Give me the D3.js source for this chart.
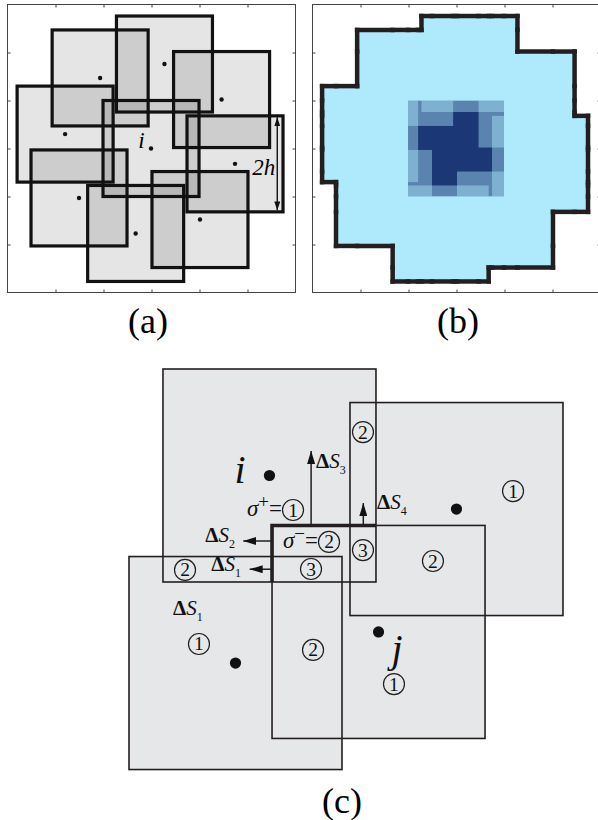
<!DOCTYPE html>
<html>
<head>
<meta charset="utf-8">
<script src="https://cdn.jsdelivr.net/npm/d3@7"></script>
<style>
  body { margin: 0; background: #fff; }
  svg { display: block; }
</style>
</head>
<body>
<svg id="fig" width="598" height="820" font-family="'Liberation Serif', 'Times New Roman', Times, 'DejaVu Serif', serif"></svg>
<script>
// ---- panels (a) and (b): window centres in grid units, half width h = 1
var winX = [1.93, 3.27, 4.46, 4.74, 4.01, 2.67, 1.49, 1.20, 2.99];
var winY = [1.53, 1.24, 1.98, 3.32, 4.48, 4.77, 4.03, 2.70, 3.00];
var h = 1;
var centre = 8;            // window "i"
var tickVals = [1, 2, 3, 4, 5];
var panelLabels = ["(a)", "(b)", "(c)"];

// ---- panel (c): four windows, centres in units of h
var cellName = ["i", "k", "l", "j"];
var cellX = [1.319, 3.075, 1.0, 2.343];
var cellY = [1.0, 1.315, 2.761, 2.469];

// arrows dS1..dS4 leaving the boundary of j inside i
var dsSub = ["1", "2", "3", "4"];
var dsDir = ["left", "left", "up", "up"];
var dsAt  = [1.88, 1.615, 1.71, 2.20];
var dsLen = [0.21, 0.27, 0.70, 0.21];

// circled region numbers
var circNum = [2, 1, 2, 3, 2, 3, 1, 2, 2, 1, 1];
var circX = [2.197, 1.54, 1.878, 2.197, 0.526, 1.709, 0.657, 1.728, 2.854, 2.488, 3.606];
var circY = [0.592, 1.324, 1.624, 1.70, 1.887, 1.878, 2.582, 2.638, 1.803, 2.958, 1.146];

// Delta S labels: subscript, x, baseline y, anchor
var dsLabSub = ["1", "2", "3", "4", "1"];
var dsLabX = [1.052, 0.995, 1.756, 2.329, 0.413];
var dsLabY = [1.897, 1.622, 0.930, 1.315, 2.310];
var dsLabAnchor = ["end", "end", "start", "start", "start"];

var svg = d3.select("#fig");
var defs = svg.append("defs");

function marker(id, len, wid) {
  defs.append("marker").attr("id", id)
    .attr("viewBox", "0 0 10 10").attr("refX", 10).attr("refY", 5)
    .attr("markerWidth", len).attr("markerHeight", wid)
    .attr("markerUnits", "userSpaceOnUse")
    .attr("preserveAspectRatio", "none")
    .attr("orient", "auto-start-reverse")
    .append("path").attr("d", "M0,0L10,5L0,10z").attr("fill", "#111");
}
marker("headA", 9, 6);
marker("headC", 13, 8);

function frame(x, y) {
  var g = svg.append("g");
  var x0 = x.range()[0], x1 = x.range()[1], y0 = y.range()[0], y1 = y.range()[1];
  g.append("g").attr("transform", "translate(0," + y1 + ")")
    .call(d3.axisBottom(x).tickValues(tickVals).tickSize(-3).tickFormat(""));
  g.append("g").attr("transform", "translate(0," + y0 + ")")
    .call(d3.axisTop(x).tickValues(tickVals).tickSize(-3).tickFormat(""));
  g.append("g").attr("transform", "translate(" + x0 + ",0)")
    .call(d3.axisLeft(y).tickValues(tickVals).tickSize(-3).tickFormat(""));
  g.append("g").attr("transform", "translate(" + x1 + ",0)")
    .call(d3.axisRight(y).tickValues(tickVals).tickSize(-3).tickFormat(""));
  g.selectAll(".domain").remove();
  g.selectAll(".tick line").attr("stroke", "#444");
  g.append("rect").attr("x", x0).attr("y", y0)
    .attr("width", x1 - x0).attr("height", y1 - y0)
    .attr("fill", "none").attr("stroke", "#444").attr("stroke-width", 1);
}

var wins = winX.map(function (d, i) { return { x: d, y: winY[i] }; });

// ================= (a)
var ax = d3.scaleLinear().domain([0, 6]).range([7.5, 295.5]);
var ay = d3.scaleLinear().domain([0, 6]).range([4.5, 292.5]);
var side = ax(2 * h) - ax(0);
var ga = svg.append("g");

ga.selectAll("rect.f").data(wins).join("rect").attr("class", "f")
  .attr("x", function (d) { return ax(d.x - h); })
  .attr("y", function (d) { return ay(d.y - h); })
  .attr("width", side).attr("height", side)
  .attr("fill", "#000").attr("fill-opacity", 0.1);
ga.selectAll("rect.s").data(wins).join("rect").attr("class", "s")
  .attr("x", function (d) { return ax(d.x - h); })
  .attr("y", function (d) { return ay(d.y - h); })
  .attr("width", side).attr("height", side)
  .attr("fill", "none").attr("stroke", "#111").attr("stroke-width", 3.2);
ga.selectAll("circle").data(wins).join("circle")
  .attr("cx", function (d) { return ax(d.x); })
  .attr("cy", function (d) { return ay(d.y); })
  .attr("r", 2.2).attr("fill", "#111");

// 2h arrow on window 4
var w4 = wins[3];
ga.append("line")
  .attr("x1", ax(w4.x + h - 0.12)).attr("x2", ax(w4.x + h - 0.12))
  .attr("y1", ay(w4.y - h + 0.03)).attr("y2", ay(w4.y + h - 0.03))
  .attr("stroke", "#111").attr("stroke-width", 1.4)
  .attr("marker-start", "url(#headA)").attr("marker-end", "url(#headA)");
ga.append("text").attr("x", ax(5.58)).attr("y", ay(3.56))
  .attr("text-anchor", "end").attr("font-size", 23).attr("font-style", "italic").text("2h");
ga.append("text").attr("x", ax(2.79)).attr("y", ay(2.98))
  .attr("text-anchor", "middle").attr("font-size", 23).attr("font-style", "italic").text("i");
frame(ax, ay);

// ================= (b)
var bx = d3.scaleLinear().domain([0, 6]).range([312.5, 600.5]);
var by = ay;
var gb = svg.append("g");
var blue = "#aeeafc";
gb.selectAll("rect.u").data(wins).join("rect").attr("class", "u")
  .attr("x", function (d) { return bx(d.x - h); })
  .attr("y", function (d) { return by(d.y - h); })
  .attr("width", side).attr("height", side)
  .attr("fill", blue);

// overlap map inside window i
var wi = wins[centre];
defs.append("clipPath").attr("id", "clipI").append("rect")
  .attr("x", bx(wi.x - h)).attr("y", by(wi.y - h)).attr("width", side).attr("height", side);
var gi = gb.append("g").attr("clip-path", "url(#clipI)");
gi.append("rect").attr("x", bx(wi.x - h)).attr("y", by(wi.y - h))
  .attr("width", side).attr("height", side).attr("fill", "#1b3775");
gi.selectAll("rect.o").data(wins.filter(function (d, i) { return i !== centre; }))
  .join("rect").attr("class", "o")
  .attr("x", function (d) { return bx(d.x - h); })
  .attr("y", function (d) { return by(d.y - h); })
  .attr("width", side).attr("height", side)
  .attr("fill", blue).attr("fill-opacity", 0.43);

// outline of the union of all windows
function unionEdges(rs) {
  var xs = Array.from(new Set(rs.flatMap(function (r) { return [r[0], r[2]]; }))).sort(d3.ascending);
  var ys = Array.from(new Set(rs.flatMap(function (r) { return [r[1], r[3]]; }))).sort(d3.ascending);
  function cov(i, j) {
    if (i < 0 || j < 0 || i >= xs.length - 1 || j >= ys.length - 1) return false;
    var mx = (xs[i] + xs[i + 1]) / 2, my = (ys[j] + ys[j + 1]) / 2;
    return rs.some(function (r) { return mx > r[0] && mx < r[2] && my > r[1] && my < r[3]; });
  }
  var segs = [];
  for (var i = 0; i < xs.length - 1; i++) {
    for (var j = 0; j < ys.length - 1; j++) {
      if (!cov(i, j)) continue;
      if (!cov(i, j - 1)) segs.push([xs[i], ys[j], xs[i + 1], ys[j]]);
      if (!cov(i, j + 1)) segs.push([xs[i], ys[j + 1], xs[i + 1], ys[j + 1]]);
      if (!cov(i - 1, j)) segs.push([xs[i], ys[j], xs[i], ys[j + 1]]);
      if (!cov(i + 1, j)) segs.push([xs[i + 1], ys[j], xs[i + 1], ys[j + 1]]);
    }
  }
  return segs;
}
var edges = unionEdges(wins.map(function (d) { return [d.x - h, d.y - h, d.x + h, d.y + h]; }));
gb.selectAll("line.e").data(edges).join("line").attr("class", "e")
  .attr("x1", function (d) { return bx(d[0]); }).attr("y1", function (d) { return by(d[1]); })
  .attr("x2", function (d) { return bx(d[2]); }).attr("y2", function (d) { return by(d[3]); })
  .attr("stroke", "#231f20").attr("stroke-width", 4.5).attr("stroke-linecap", "square");
frame(bx, by);

// panel labels
svg.append("text").attr("x", 148).attr("y", 333).attr("text-anchor", "middle")
  .attr("font-size", 36).text(panelLabels[0]);
svg.append("text").attr("x", 458).attr("y", 333).attr("text-anchor", "middle")
  .attr("font-size", 36).text(panelLabels[1]);
svg.append("text").attr("x", 342).attr("y", 813).attr("text-anchor", "middle")
  .attr("font-size", 36).text(panelLabels[2]);

// ================= (c)
var cx = d3.scaleLinear().domain([0, 1]).range([129, 235.5]);
var cy = d3.scaleLinear().domain([0, 1]).range([369, 475.5]);
var cside = cx(2) - cx(0);
var cells = cellX.map(function (d, i) { return { name: cellName[i], x: d, y: cellY[i] }; });
var gc = svg.append("g");
var ink = "#231f20";

gc.selectAll("rect.f").data(cells).join("rect").attr("class", "f")
  .attr("x", function (d) { return cx(d.x - 1); }).attr("y", function (d) { return cy(d.y - 1); })
  .attr("width", cside).attr("height", cside).attr("fill", "#e6e7e8");
gc.selectAll("rect.s").data(cells).join("rect").attr("class", "s")
  .attr("x", function (d) { return cx(d.x - 1); }).attr("y", function (d) { return cy(d.y - 1); })
  .attr("width", cside).attr("height", cside)
  .attr("fill", "none").attr("stroke", ink).attr("stroke-width", 1.6);

// boundary of j inside i (thick)
var I = cells[0], J = cells[3];
gc.append("path")
  .attr("d", "M" + cx(Math.min(J.x, I.x) + 1) + "," + cy(J.y - 1) +
             "H" + cx(J.x - 1) + "V" + cy(Math.min(I.y, J.y) + 1))
  .attr("fill", "none").attr("stroke", ink).attr("stroke-width", 3.6);

// arrows
dsDir.forEach(function (dir, k) {
  var l = gc.append("line").attr("stroke", ink).attr("stroke-width", 1.5)
    .attr("marker-end", "url(#headC)");
  if (dir === "left") {
    l.attr("x1", cx(J.x - 1)).attr("x2", cx(J.x - 1 - dsLen[k]))
     .attr("y1", cy(dsAt[k])).attr("y2", cy(dsAt[k]));
  } else {
    l.attr("x1", cx(dsAt[k])).attr("x2", cx(dsAt[k]))
     .attr("y1", cy(J.y - 1)).attr("y2", cy(J.y - 1 - dsLen[k]));
  }
});

// dots
gc.selectAll("circle.dot").data(cells).join("circle").attr("class", "dot")
  .attr("cx", function (d) { return cx(d.x); }).attr("cy", function (d) { return cy(d.y); })
  .attr("r", 5.6).attr("fill", "#111");

// circled numbers
var circ = circNum.map(function (n, i) { return { n: n, x: circX[i], y: circY[i] }; });
var cg = gc.selectAll("g.circ").data(circ).join("g").attr("class", "circ")
  .attr("transform", function (d) { return "translate(" + cx(d.x) + "," + cy(d.y) + ")"; });
cg.append("circle").attr("r", 10.5).attr("fill", "none").attr("stroke", ink).attr("stroke-width", 1.2);
cg.append("text").attr("text-anchor", "middle").attr("y", 6.5).attr("font-size", 19.5).attr("fill", "#111")
  .text(function (d) { return d.n; });

// Delta S labels
dsLabSub.forEach(function (s, k) {
  var t = gc.append("text").attr("x", cx(dsLabX[k])).attr("y", cy(dsLabY[k]))
    .attr("text-anchor", dsLabAnchor[k]).attr("font-size", 21).attr("fill", "#111");
  t.append("tspan").attr("font-weight", "bold").text("\u0394");
  t.append("tspan").attr("font-style", "italic").text("S");
  t.append("tspan").attr("font-size", 12).attr("dy", 6).text(s);
});

// sigma labels
function sigma(x, y, sign) {
  var t = gc.append("text").attr("x", x).attr("y", y).attr("text-anchor", "end")
    .attr("font-size", 23).attr("fill", "#111");
  t.append("tspan").attr("font-style", "italic").text("\u03c3");
  t.append("tspan").attr("font-size", 19).attr("dy", -8).text(sign);
  t.append("tspan").attr("dy", 8).text("=");
}
sigma(cx(circ[1].x) - 11, cy(circ[1].y) + 6, "+");
sigma(cx(circ[2].x) - 11, cy(circ[2].y) + 6, "\u2212");

// window names
gc.append("text").attr("x", cx(1.042)).attr("y", cy(1.07)).attr("text-anchor", "middle")
  .attr("font-size", 40).attr("font-style", "italic").attr("fill", "#111").text(cells[0].name);
gc.append("text").attr("x", cx(2.516)).attr("y", cy(2.751)).attr("text-anchor", "middle")
  .attr("font-size", 40).attr("font-style", "italic").attr("fill", "#111").text(cells[3].name);
</script>
</body>
</html>
